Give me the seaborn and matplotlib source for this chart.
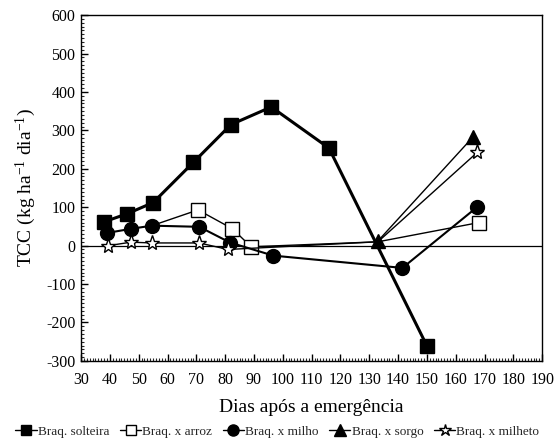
import matplotlib
matplotlib.use("Agg")
import matplotlib.pyplot as plt
import seaborn as sns
import pandas as pd
from matplotlib.ticker import MultipleLocator
from matplotlib.lines import Line2D

sns.set_theme(style="white")
plt.rcParams['font.family'] = ['Liberation Serif', 'DejaVu Serif']
plt.rcParams['mathtext.fontset'] = 'custom'
plt.rcParams['mathtext.rm'] = 'Liberation Serif'
plt.rcParams['mathtext.it'] = 'Liberation Serif'
plt.rcParams['axes.unicode_minus'] = False

# Data
sol_days = [38, 46, 55, 69, 82, 96, 116, 150]
sol_vals = [62, 83, 112, 217, 315, 361, 254, -261]

arr_days = [54.6, 70.6, 82.5, 89, 133, 168]
arr_vals = [52, 93, 44, -3, 10, 60]

mil_days = [39, 47.5, 54.6, 71, 81.7, 96.7, 141.5, 167.5]
mil_vals = [33, 44, 52, 49, 8, -26, -58, 101]

sor_days = [133, 166]
sor_vals = [12, 283]

mlh_days = [39.5, 47.3, 54.7, 71, 81, 133, 167.5]
mlh_vals = [0, 9, 7, 7, -10, 10, 243]

# (label, days, values, marker, face, linewidth, markersize, hidden marker indices, zorder)
series = [
    ("Braq. solteira", sol_days, sol_vals, 's', 'black', 2.2, 9.5, [], 3),
    ("Braq. x arroz", arr_days, arr_vals, 's', 'white', 1.0, 9.5, [0, 4], 4),
    ("Braq. x milho", mil_days, mil_vals, 'o', 'black', 1.5, 10, [], 5),
    ("Braq. x sorgo", sor_days, sor_vals, '^', 'black', 1.0, 10, [], 7),
    ("Braq. x milheto", mlh_days, mlh_vals, '*', 'white', 1.0, 11, [5], 6),
]

fig = plt.figure(figsize=(5.55, 4.45), dpi=100)
ax = fig.add_axes([0.146, 0.189, 0.831, 0.777])

ax.axhline(0, color='black', lw=0.9, zorder=1)

handles = []
for name, d, v, m, fc, lw, ms, hide, z in series:
    df = pd.DataFrame({"dia": d, "tcc": v})
    shown = [k for k in range(len(d)) if k not in hide]
    sns.lineplot(data=df, x="dia", y="tcc", ax=ax, sort=False, estimator=None,
                 color='black', lw=lw, marker=m, markersize=ms, markevery=shown,
                 markerfacecolor=fc, markeredgecolor='black', markeredgewidth=1.0,
                 zorder=z)
    handles.append(Line2D([], [], color='black', lw=1.0, marker=m, markersize=ms * 0.8,
                          markerfacecolor=fc, markeredgecolor='black', label=name))

ax.set_xlim(30, 190)
ax.set_ylim(-300, 600)
ax.xaxis.set_major_locator(MultipleLocator(10))
ax.xaxis.set_minor_locator(MultipleLocator(1))
ax.yaxis.set_major_locator(MultipleLocator(100))
ax.yaxis.set_minor_locator(MultipleLocator(10))
ax.tick_params(axis='both', which='major', direction='in', length=5, width=1,
               labelsize=11.5, colors='black', bottom=True, left=True)
ax.tick_params(axis='x', which='major', pad=8)
ax.tick_params(axis='y', which='major', pad=4)
ax.tick_params(axis='both', which='minor', direction='in', length=2.5, width=0.8,
               bottom=True, left=True)
for s in ax.spines.values():
    s.set_color('black')
    s.set_linewidth(1.0)
    s.set_visible(True)

ax.set_xlabel("Dias após a emergência", fontsize=14, color='black', labelpad=8)
ax.set_ylabel(r"TCC (kg ha$^{-1}$ dia$^{-1}$)", fontsize=14, color='black', labelpad=6)

fig.legend(handles=handles, loc='center', bbox_to_anchor=(0.5, 0.03), ncol=5,
           frameon=False, fontsize=9.5, handlelength=1.6, handletextpad=0.1,
           columnspacing=0.8, borderaxespad=0)

fig.savefig("out.png", dpi=100)
